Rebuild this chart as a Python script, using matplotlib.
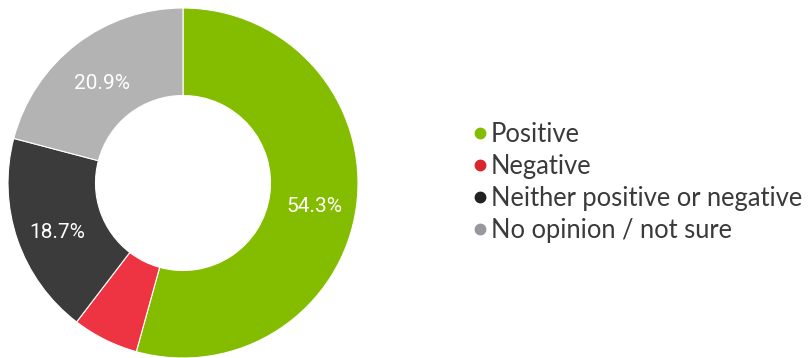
import matplotlib
matplotlib.use('Agg')
import matplotlib.pyplot as plt
from matplotlib.lines import Line2D

# ===== Data =====
categories = ["Positive", "Negative", "Neither positive or negative", "No opinion / not sure"]
shares = [54.3, 6.1, 18.7, 20.9]
labels = ["54.3%", "", "18.7%", "20.9%"]
slice_colors = ["#84bd00", "#ee3342", "#3b3b3b", "#b3b3b3"]
legend_colors = ["#84bd00", "#d9252e", "#222222", "#98989c"]

W, H = 812, 358
fig = plt.figure(figsize=(W / 100, H / 100), dpi=100)

# donut: center at (183, 183) px from top-left, outer radius 175 px
R = 175
ax = fig.add_axes([(183 - R) / W, (H - 183 - R) / H, 2 * R / W, 2 * R / H])
wedges, texts = ax.pie(
    shares, colors=slice_colors, startangle=90, counterclock=False,
    radius=1, labels=labels, labeldistance=0.76,
    wedgeprops=dict(width=0.5, edgecolor="white", linewidth=0.8),
    textprops=dict(color="white", fontsize=15, family="Roboto"),
)
for t in texts:
    t.set_ha("center")
    t.set_va("center")
    t.set_y(t.get_position()[1] - 0.034)  # labels sit a bit low in the original
ax.set_xlim(-1, 1)
ax.set_ylim(-1, 1)
ax.set_aspect("auto")
ax.axis("off")

handles = [Line2D([], [], marker="o", linestyle="", markersize=7.5,
                  markerfacecolor=c, markeredgecolor=c) for c in legend_colors]
leg = fig.legend(handles, categories, loc="upper left",
                 bbox_to_anchor=(474 / W, 1 - 122 / H), frameon=False,
                 prop=dict(family="Lato", size=18.4),
                 handlelength=0.45, handletextpad=0.22, labelspacing=0.27,
                 borderpad=0, borderaxespad=0)
for t in leg.get_texts():
    t.set_color("#3a3a3a")

fig.savefig("out.png", dpi=100)
